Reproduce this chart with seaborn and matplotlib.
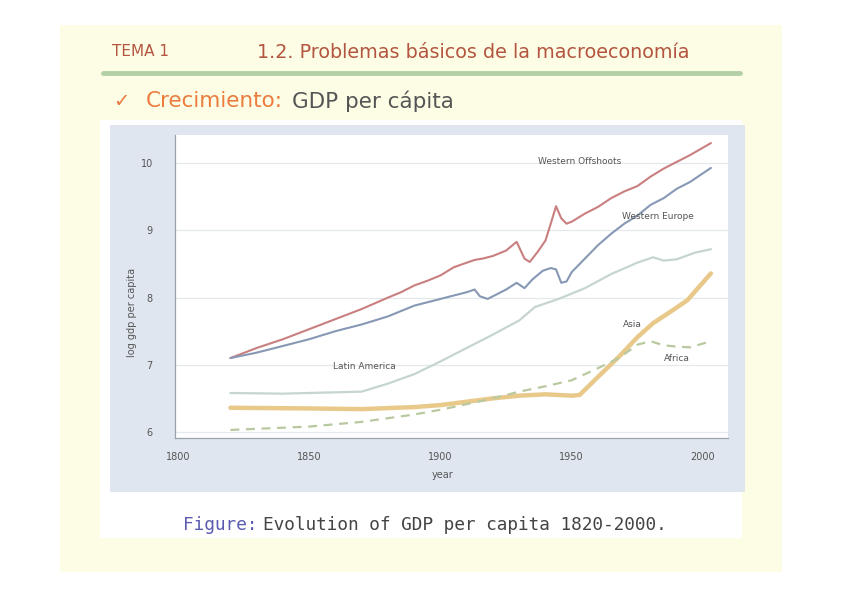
import pandas as pd
import seaborn as sns
import matplotlib.pyplot as plt
from matplotlib.patches import Rectangle

# log gdp per capita
wo_years = [1820, 1830, 1840, 1850, 1860, 1870, 1880, 1885, 1890, 1895, 1900, 1905, 1910, 1913, 1916, 1920,
            1925, 1929, 1932, 1934, 1937, 1940, 1942, 1944, 1946, 1948, 1950, 1955, 1960, 1965, 1970, 1975,
            1980, 1985, 1990, 1995, 2003]
wo_vals = [7.10, 7.25, 7.38, 7.53, 7.68, 7.83, 8.00, 8.08, 8.18, 8.25, 8.33, 8.45, 8.52, 8.56, 8.58, 8.62,
           8.70, 8.83, 8.58, 8.53, 8.68, 8.85, 9.10, 9.36, 9.18, 9.10, 9.13, 9.25, 9.35, 9.48, 9.58, 9.66,
           9.80, 9.92, 10.02, 10.12, 10.30]

we_years = [1820, 1830, 1840, 1850, 1860, 1870, 1880, 1890, 1900, 1910, 1913, 1915, 1918, 1920, 1925, 1929,
            1932, 1935, 1939, 1942, 1944, 1946, 1948, 1950, 1955, 1960, 1965, 1970, 1975, 1980, 1985, 1990,
            1995, 2003]
we_vals = [7.10, 7.18, 7.28, 7.38, 7.50, 7.60, 7.72, 7.88, 7.98, 8.08, 8.12, 8.02, 7.98, 8.02, 8.12, 8.22,
           8.14, 8.27, 8.40, 8.44, 8.42, 8.22, 8.24, 8.38, 8.58, 8.78, 8.95, 9.10, 9.22, 9.38, 9.48, 9.62,
           9.72, 9.93]

la_years = [1820, 1840, 1860, 1870, 1880, 1890, 1900, 1910, 1920, 1930, 1936, 1945, 1955, 1965, 1975, 1981,
            1985, 1990, 1997, 2003]
la_vals = [6.58, 6.57, 6.59, 6.60, 6.72, 6.86, 7.05, 7.25, 7.45, 7.66, 7.86, 7.98, 8.14, 8.35, 8.52, 8.60,
           8.55, 8.57, 8.67, 8.72]

as_years = [1820, 1850, 1870, 1890, 1900, 1910, 1920, 1930, 1940, 1950, 1953, 1960, 1968, 1975, 1981, 1988,
            1994, 2003]
as_vals = [6.36, 6.35, 6.34, 6.37, 6.40, 6.45, 6.50, 6.54, 6.56, 6.54, 6.55, 6.82, 7.12, 7.41, 7.62, 7.80,
           7.96, 8.36]

af_years = [1820, 1850, 1870, 1890, 1900, 1913, 1920, 1930, 1940, 1950, 1960, 1968, 1975, 1980, 1985, 1990,
            1995, 2003]
af_vals = [6.03, 6.08, 6.15, 6.26, 6.33, 6.44, 6.50, 6.60, 6.68, 6.77, 6.95, 7.10, 7.30, 7.35, 7.29, 7.27,
           7.26, 7.35]

y_ticks = [6, 7, 8, 9, 10]
x_ticks = [1800, 1850, 1900, 1950, 2000]

W, H = 842, 595


def fx(x):
    return x / W


def fy(y):
    return 1 - y / H


sns.set_style("white")
fig = plt.figure(figsize=(8.42, 5.95), dpi=100)
fig.patch.set_facecolor("white")

# slide page and figure boxes
fig.patches.append(Rectangle((fx(60), fy(572)), fx(722), 547 / H, transform=fig.transFigure,
                             facecolor="#fdfde6", edgecolor="none", zorder=-3))
fig.patches.append(Rectangle((fx(100), fy(538)), fx(642), 418 / H, transform=fig.transFigure,
                             facecolor="white", edgecolor="none", zorder=-2))
fig.patches.append(Rectangle((fx(110), fy(492)), fx(635), 367 / H, transform=fig.transFigure,
                             facecolor="#dfe6ef", edgecolor="none", zorder=-1))

# header
fig.text(fx(112), fy(52), "TEMA 1", fontsize=11, color="#b4553f", va="center")
fig.text(fx(257), fy(52), "1.2. Problemas básicos de la macroeconomía", fontsize=13.8,
         color="#b4553f", va="center")
fig.add_artist(plt.Line2D([fx(103), fx(740)], [fy(73), fy(73)], color="#b3cfa6", lw=3.5))
fig.text(fx(113), fy(101), "✓", fontsize=14, color="#e87a3c", va="center")
fig.text(fx(146), fy(101), "Crecimiento:", fontsize=15.5, color="#ec7c3e", va="center")
fig.text(fx(292), fy(101), "GDP per cápita", fontsize=15.5, color="#555555", va="center")

# caption
fig.text(fx(183), fy(525), "Figure:", fontsize=12.8, color="#5b5bb0", va="center", family="DejaVu Sans Mono")
fig.text(fx(263), fy(525), "Evolution of GDP per capita 1820-2000.", fontsize=12.8, color="#444444",
         va="center", family="DejaVu Sans Mono")

ax = fig.add_axes([fx(175), fy(438), (728 - 175) / W, (438 - 135) / H])
ax.set_zorder(2)
ax.set_facecolor("white")

sns.lineplot(x=wo_years, y=wo_vals, ax=ax, color="#c97f7f", lw=1.5)
sns.lineplot(x=we_years, y=we_vals, ax=ax, color="#8798b5", lw=1.5)
sns.lineplot(x=la_years, y=la_vals, ax=ax, color="#c6d5cf", lw=1.6)
sns.lineplot(x=as_years, y=as_vals, ax=ax, color="#e8c98a", lw=3.2)
sns.lineplot(x=af_years, y=af_vals, ax=ax, color="#b9c99f", lw=1.6, linestyle=(0, (4, 3)))

ax.set_xlim(1798.9, 2009.5)
ax.set_ylim(5.91, 10.42)
ax.set_xticks(x_ticks)
ax.set_yticks(y_ticks)
ax.tick_params(axis="both", labelsize=7, colors="#555555", length=4, width=0.8, direction="out")
ax.tick_params(axis="y", pad=12)
ax.tick_params(axis="x", pad=6)
ax.tick_params(axis="both", color="#9aa3ad")
for t in y_ticks:
    ax.axhline(t, color="#e5e9ee", lw=0.9, zorder=0)

for s in ["top", "right"]:
    ax.spines[s].set_visible(False)
for s in ["left", "bottom"]:
    ax.spines[s].set_color("#9aa3ad")
    ax.spines[s].set_linewidth(0.9)

ax.set_xlabel("year", fontsize=7, color="#555555")
ax.set_ylabel("log gdp per capita", fontsize=7, color="#555555")
ax.xaxis.set_label_coords((443 - 175) / 553, -(470 - 438) / 303)
ax.yaxis.set_label_coords(-(175 - 137) / 553, (438 - 312) / 303)

# series labels
ax.text(1953, 10.03, "Western Offshoots", fontsize=6.5, color="#555555", ha="center", va="center")
ax.text(1983, 9.2, "Western Europe", fontsize=6.5, color="#555555", ha="center", va="center")
ax.text(1871, 6.98, "Latin America", fontsize=6.5, color="#555555", ha="center", va="center")
ax.text(1973, 7.6, "Asia", fontsize=6.5, color="#555555", ha="center", va="center")
ax.text(1990, 7.1, "Africa", fontsize=6.5, color="#555555", ha="center", va="center")

fig.savefig("out.png", dpi=100)
